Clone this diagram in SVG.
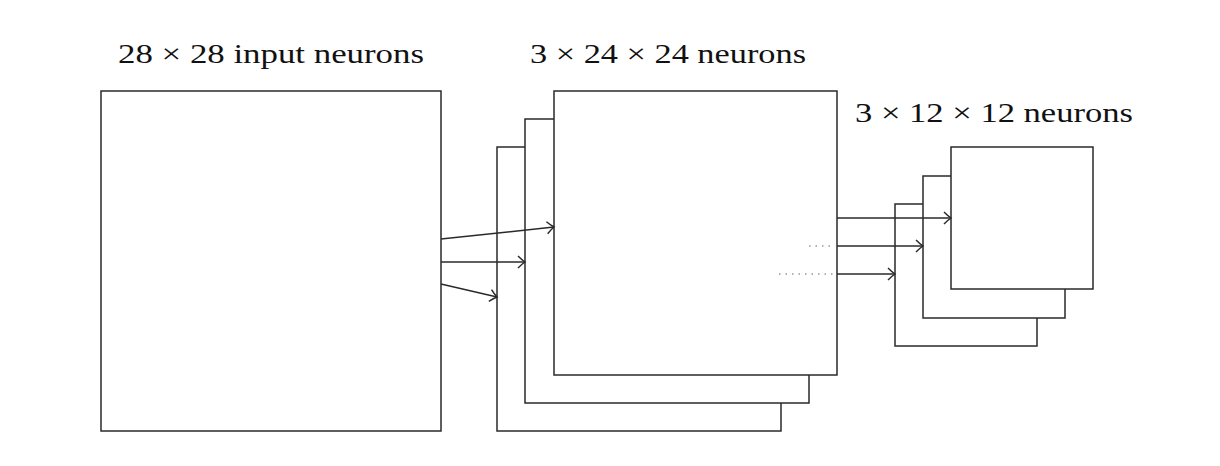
<svg xmlns="http://www.w3.org/2000/svg" width="1220" height="466" viewBox="0 0 1220 466">
<style>
.box{fill:#fff;stroke:#2a2a2a;stroke-width:1.5}
.lbl{font-family:"Liberation Serif","DejaVu Serif",serif;font-size:27px;fill:#111}
.conn{stroke:#2a2a2a;stroke-width:1.5;fill:none;marker-end:url(#ah)}
.dots{stroke:#999;stroke-width:1.5;stroke-dasharray:1.5 5;fill:none}
</style>
<defs>
<marker id="ah" markerWidth="14" markerHeight="16" refX="10.5" refY="8" orient="auto" markerUnits="userSpaceOnUse">
<path d="M3.5,2 Q7.5,6 10.5,8 Q7.5,10 3.5,14" fill="none" stroke="#2a2a2a" stroke-width="1.5"/>
</marker>
</defs>
<rect width="1220" height="466" fill="#fff"/>
<g id="input">
<rect class="box" x="101" y="91" width="340" height="340"/>
<text class="lbl" x="118" y="63" textLength="306" lengthAdjust="spacingAndGlyphs">28 × 28 input neurons</text>
</g>
<g id="conv">
<rect class="box" x="497" y="147" width="284" height="284"/>
<rect class="box" x="525" y="119" width="284" height="284"/>
<rect class="box" x="554" y="91" width="283" height="284"/>
<text class="lbl" x="530" y="63" textLength="276" lengthAdjust="spacingAndGlyphs">3 × 24 × 24 neurons</text>
</g>
<g id="pool">
<rect class="box" x="895" y="204" width="142" height="142"/>
<rect class="box" x="923" y="176" width="142" height="142"/>
<rect class="box" x="951" y="147" width="142" height="142"/>
<text class="lbl" x="855" y="122" textLength="278" lengthAdjust="spacingAndGlyphs">3 × 12 × 12 neurons</text>
</g>
<g id="connectors">
<line class="conn" x1="441" y1="239" x2="554" y2="227"/>
<line class="conn" x1="441" y1="262" x2="525" y2="262"/>
<line class="conn" x1="441" y1="284" x2="497" y2="297"/>
<line class="conn" x1="837" y1="218" x2="951" y2="218"/>
<line class="conn" x1="837" y1="246" x2="923" y2="246"/>
<line class="conn" x1="837" y1="274" x2="895" y2="274"/>
<line class="dots" x1="809" y1="246" x2="834" y2="246"/>
<line class="dots" x1="779" y1="274" x2="834" y2="274"/>
</g>
</svg>
